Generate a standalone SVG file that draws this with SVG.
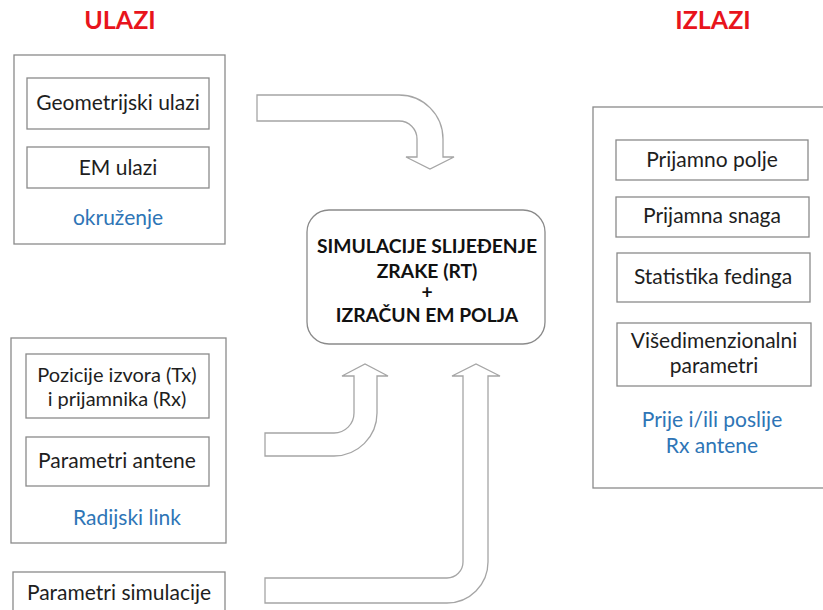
<svg xmlns="http://www.w3.org/2000/svg" width="823" height="610" viewBox="0 0 823 610">
<style>
.box{fill:#fff;stroke:#8a8a8a;stroke-width:1.3}
.t{font-family:Lato,"Open Sans","Noto Sans",sans-serif;font-size:21px;fill:#1e1e1e;text-anchor:middle}
.s{font-size:20px}
.blue{fill:#2e75b6}
.head{font-family:Lato,"Open Sans",sans-serif;font-weight:bold;font-size:25px;fill:#e8141c;text-anchor:middle}
.c{font-family:Lato,"Open Sans",sans-serif;font-weight:bold;font-size:19.3px;fill:#111;text-anchor:middle}
.arrow{fill:#fff;stroke:#a5a5a5;stroke-width:1.3;stroke-linejoin:miter}
</style>
<rect width="823" height="610" fill="#fff"/>
<text class="head" x="120" y="29">ULAZI</text>
<text class="head" x="713" y="29">IZLAZI</text>

<g id="okruzenje">
<rect class="box" x="14" y="55" width="211" height="189"/>
<text class="t blue" x="118" y="225">okruženje</text>
</g>
<g id="geometrijski">
<rect class="box" x="27" y="78" width="182" height="51"/>
<text class="t" x="118" y="110">Geometrijski ulazi</text>
</g>
<g id="em-ulazi">
<rect class="box" x="27" y="147" width="182" height="41"/>
<text class="t" x="118" y="175">EM ulazi</text>
</g>

<g id="radijski-link">
<rect class="box" x="11" y="338" width="215" height="205"/>
<text class="t blue" x="127" y="525">Radijski link</text>
</g>
<g id="pozicije">
<rect class="box" x="26" y="354" width="183" height="64"/>
<text class="t s" x="117" y="382">Pozicije izvora (Tx)</text>
<text class="t s" x="117" y="406">i prijamnika (Rx)</text>
</g>
<g id="parametri-antene">
<rect class="box" x="26" y="437" width="183" height="49"/>
<text class="t" x="117" y="468">Parametri antene</text>
</g>

<g id="parametri-simulacije">
<rect class="box" x="13" y="572" width="212" height="50"/>
<text class="t" x="119" y="600">Parametri simulacije</text>
</g>

<g id="simulacija">
<rect class="box" x="307" y="210" width="238" height="134" rx="22" ry="22"/>
<text class="c" x="427" y="253">SIMULACIJE SLIJEĐENJE</text>
<text class="c" x="427" y="278">ZRAKE (RT)</text>
<text class="c" x="427" y="299">+</text>
<text class="c" x="427" y="322">IZRAČUN EM POLJA</text>
</g>

<g id="izlazi">
<rect class="box" x="593" y="107" width="240" height="381"/>
<text class="t blue" x="712" y="427">Prije i/ili poslije</text>
<text class="t blue" x="712" y="453">Rx antene</text>
</g>
<g id="prijamno-polje">
<rect class="box" x="616" y="140" width="192" height="40"/>
<text class="t" x="712" y="167">Prijamno polje</text>
</g>
<g id="prijamna-snaga">
<rect class="box" x="616" y="197" width="193" height="40"/>
<text class="t" x="712" y="223">Prijamna snaga</text>
</g>
<g id="statistika">
<rect class="box" x="617" y="253" width="193" height="49"/>
<text class="t" x="713" y="284">Statistika fedinga</text>
</g>
<g id="visedimenzionalni">
<rect class="box" x="617" y="323" width="194" height="63"/>
<text class="t" x="714" y="348">Višedimenzionalni</text>
<text class="t" x="714" y="373">parametri</text>
</g>

<g id="connectors">
<path class="arrow" d="M257,95 H399 A44,44 0 0 1 443,139 V157 H454 L430,169 L406,157 H417 V139 A18,18 0 0 0 399,121 H257 Z"/>
<path class="arrow" d="M265,433 H334 A20,20 0 0 0 354,413 V376 H342 L365,364 L388,376 H377 V413 A43,43 0 0 1 334,456 H265 Z"/>
<path class="arrow" d="M265,578 H447 A16,16 0 0 0 463,562 V376 H452 L476,364 L500,376 H488 V562 A41,41 0 0 1 447,603 H265 Z"/>
</g>
</svg>
